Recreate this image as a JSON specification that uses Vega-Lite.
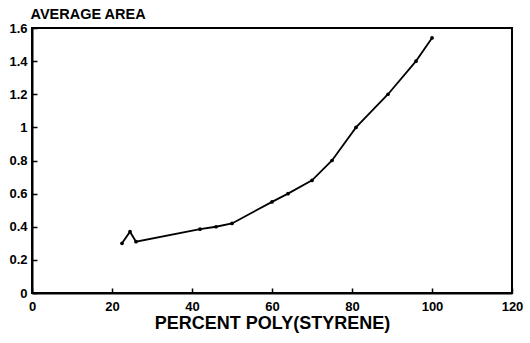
{
  "$schema": "https://vega.github.io/schema/vega-lite/v6.json",
  "width": 480,
  "height": 265,
  "autosize": {"type": "none"},
  "padding": {"left": 32, "top": 28, "right": 18, "bottom": 50},
  "background": "white",
  "config": {
    "view": {"stroke": "black", "strokeWidth": 2},
    "font": "Liberation Sans",
    "axis": {
      "grid": false,
      "domainColor": "black",
      "domainWidth": 2,
      "tickColor": "black",
      "tickWidth": 1.5,
      "tickSize": -5,
      "labelFont": "Liberation Sans",
      "labelFontWeight": "bold",
      "labelFontSize": 13,
      "labelColor": "black",
      "titleFont": "Liberation Sans",
      "titleFontWeight": "bold",
      "titleColor": "black"
    }
  },
  "data": {
    "values": [
      {"pct": 22.5, "area": 0.30},
      {"pct": 24.5, "area": 0.37},
      {"pct": 26, "area": 0.31},
      {"pct": 42, "area": 0.385},
      {"pct": 46, "area": 0.40},
      {"pct": 50, "area": 0.42},
      {"pct": 60, "area": 0.55},
      {"pct": 64, "area": 0.60},
      {"pct": 70, "area": 0.68},
      {"pct": 75, "area": 0.80},
      {"pct": 81, "area": 1.00},
      {"pct": 89, "area": 1.20},
      {"pct": 96, "area": 1.40},
      {"pct": 100, "area": 1.54}
    ]
  },
  "mark": {"type": "line", "color": "black", "strokeWidth": 1.8, "point": {"filled": true, "color": "black", "size": 14}},
  "encoding": {
    "x": {
      "field": "pct", "type": "quantitative",
      "scale": {"domain": [0, 120], "nice": false},
      "axis": {"values": [0, 20, 40, 60, 80, 100, 120], "format": "d", "labelPadding": 12, "title": "PERCENT POLY(STYRENE)", "titleFontSize": 18, "titlePadding": 1, "labelFlush": false}
    },
    "y": {
      "field": "area", "type": "quantitative",
      "scale": {"domain": [0, 1.6], "nice": false},
      "axis": {
        "values": [0, 0.2, 0.4, 0.6, 0.8, 1, 1.2, 1.4, 1.6],
        "format": "~g",
        "labelPadding": 10,
        "labelFlush": false,
        "title": "AVERAGE AREA",
        "titleAngle": 0,
        "titleAlign": "left",
        "titleBaseline": "bottom",
        "titleX": -2,
        "titleY": -7,
        "titleFontSize": 14.5
      }
    }
  }
}
